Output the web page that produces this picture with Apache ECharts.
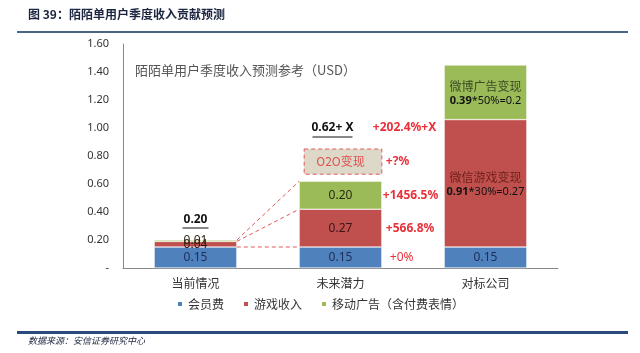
<!DOCTYPE html>
<html><head><meta charset="utf-8">
<script src="https://cdn.jsdelivr.net/npm/echarts@6/dist/echarts.min.js"></script>
<style>html,body{margin:0;padding:0;background:#fff}#c{width:640px;height:353px}</style>
</head><body><div id="c"></div>
<script>
var categories = ['当前情况', '未来潜力', '对标公司'];
var memberFee = [0.15, 0.15, 0.15];
var gameIncome = [0.04, 0.27, 0.91];
var mobileAds = [0.01, 0.20, 0.39];
var seriesNames = ['会员费', '游戏收入', '移动广告（含付费表情）'];
var totalLabels = ['0.20', '0.62+ X'];
var totalLabelLevel = [null, 1.0];
var growthLabels = ['+0%', '+566.8%', '+1456.5%'];
var o2oText = 'O2O变现', o2oGrowth = '+?%', totalGrowth = '+202.4%+X';
var o2oRange = [0.67, 0.85];
var benchGameText = ['微信游戏变现', '0.91', '*30%=0.27'];
var benchAdsText = ['微博广告变现', '0.39', '*50%=0.2'];
var yMin = 0, yMax = 1.6, yStep = 0.2;

var FONT = '"Noto Sans","Noto Sans CJK SC",sans-serif';
var CJK = '"Noto Sans CJK SC",sans-serif';
var chart = echarts.init(document.getElementById('c'));
var gap = 0.43;

function segLabel(color) {
  return { show: true, position: 'inside', color: color, fontSize: 12, fontFamily: FONT,
    formatter: function (p) { return p.value.toFixed(2); } };
}

var baseGraphics = [
  { type: 'text', left: 28, top: 8, style: { text: '图 39：陌陌单用户季度收入贡献预测', fontSize: 12, fontWeight: 'bold', fill: '#1c2540', fontFamily: CJK } },
  { type: 'rect', shape: { x: 17, y: 31, width: 611, height: 2 }, style: { fill: '#4a6488' } },
  { type: 'rect', shape: { x: 17, y: 331, width: 611, height: 3 }, style: { fill: '#2a4a7c' } },
  { type: 'text', left: 28, top: 336, style: { text: '数据来源：安信证券研究中心', fontSize: 9, fontStyle: 'italic', fill: '#1c2540', fontFamily: CJK } },
  { type: 'text', left: 135, top: 64, style: { text: '陌陌单用户季度收入预测参考（USD）', fontSize: 13, fill: '#555', fontFamily: CJK } }
];

var option = {
  animation: false,
  backgroundColor: '#fff',
  grid: { left: 123, right: 82, top: 44, bottom: 85 },
  legend: {
    bottom: 38, left: 'center', itemWidth: 6, itemHeight: 6, itemGap: 18,
    icon: 'rect', textStyle: { fontSize: 12, color: '#333', fontFamily: CJK },
    data: seriesNames
  },
  xAxis: {
    type: 'category', data: categories,
    axisLine: { lineStyle: { color: '#888' } }, axisTick: { show: false },
    axisLabel: { color: '#333', fontSize: 12, fontFamily: CJK, margin: 9 }
  },
  yAxis: {
    type: 'value', min: yMin, max: yMax, interval: yStep,
    axisLine: { show: true, lineStyle: { color: '#888' } }, axisTick: { show: false },
    splitLine: { show: false },
    axisLabel: { color: '#333', fontSize: 11, fontFamily: FONT, margin: 14,
      formatter: function (v) { return v === 0 ? '-' : v.toFixed(2); } }
  },
  series: [
    { name: seriesNames[0], type: 'bar', stack: 's', data: memberFee, barCategoryGap: (gap * 100) + '%',
      itemStyle: { color: '#4f81bd', borderColor: '#fff', borderWidth: 0.5 },
      label: segLabel('#1f2d5a') },
    { name: seriesNames[1], type: 'bar', stack: 's', data: gameIncome,
      itemStyle: { color: '#c0504d', borderColor: '#fff', borderWidth: 0.5 },
      label: { show: true, position: 'inside', fontSize: 12, fontFamily: FONT, color: '#3a1414',
        formatter: function (p) {
          if (p.dataIndex === 2) return '{t|' + benchGameText[0] + '}\n{b|' + benchGameText[1] + '}{n|' + benchGameText[2] + '}';
          return p.value.toFixed(2);
        },
        rich: { t: { fontSize: 12, color: '#6e1f1c', fontFamily: CJK, lineHeight: 18 },
                b: { fontSize: 11, fontWeight: 'bold', color: '#111', fontFamily: FONT },
                n: { fontSize: 11, color: '#111', fontFamily: FONT } } } },
    { name: seriesNames[2], type: 'bar', stack: 's', data: mobileAds,
      itemStyle: { color: '#9bbb59', borderColor: '#fff', borderWidth: 0.5 },
      label: { show: true, position: 'inside', fontSize: 12, fontFamily: FONT, color: '#2a2a14',
        formatter: function (p) {
          if (p.dataIndex === 2) return '{t|' + benchAdsText[0] + '}\n{b|' + benchAdsText[1] + '}{n|' + benchAdsText[2] + '}';
          return p.value.toFixed(2);
        },
        rich: { t: { fontSize: 12, color: '#3d4a22', fontFamily: CJK, lineHeight: 18 },
                b: { fontSize: 11, fontWeight: 'bold', color: '#111', fontFamily: FONT },
                n: { fontSize: 11, color: '#111', fontFamily: FONT } } } }
  ],
  graphic: baseGraphics
};
chart.setOption(option);

function px(i, v) { return chart.convertToPixel({ gridIndex: 0 }, [i, v]); }
var band = px(1, 0)[0] - px(0, 0)[0];
var half = band * (1 - gap) / 2;
var g = baseGraphics.slice();
var cum0 = [memberFee[0], memberFee[0] + gameIncome[0], memberFee[0] + gameIncome[0] + mobileAds[0]];
var cum1 = [memberFee[1], memberFee[1] + gameIncome[1], memberFee[1] + gameIncome[1] + mobileAds[1]];
for (var k = 0; k < 3; k++) {
  var a = px(0, cum0[k]), b = px(1, cum1[k]);
  g.push({ type: 'line', z: 5, shape: { x1: a[0] + half, y1: a[1], x2: b[0] - half, y2: b[1] },
    style: { stroke: '#e05a5a', lineWidth: 1, lineDash: [4, 3] } });
}
var t0 = px(0, cum0[2]);
g.push({ type: 'text', x: t0[0], y: t0[1] - 20, style: { text: totalLabels[0], fontSize: 12, fontWeight: 'bold', fill: '#111', fontFamily: FONT, align: 'center', verticalAlign: 'middle' } });
g.push({ type: 'line', shape: { x1: t0[0] - 13, y1: t0[1] - 12, x2: t0[0] + 13, y2: t0[1] - 12 }, style: { stroke: '#111', lineWidth: 1 } });
var t1 = px(1, totalLabelLevel[1]);
g.push({ type: 'text', x: t1[0] - 8, y: t1[1], style: { text: totalLabels[1], fontSize: 12, fontWeight: 'bold', fill: '#111', fontFamily: FONT, align: 'center', verticalAlign: 'middle' } });
g.push({ type: 'line', shape: { x1: t1[0] - 28, y1: t1[1] + 9, x2: t1[0] + 12, y2: t1[1] + 9 }, style: { stroke: '#111', lineWidth: 1 } });
g.push({ type: 'text', x: t1[0] + half - 9, y: t1[1], style: { text: totalGrowth, fontSize: 12, fontWeight: 'bold', fill: '#e8323a', fontFamily: FONT, align: 'left', verticalAlign: 'middle' } });
var oTop = px(1, o2oRange[1]), oBot = px(1, o2oRange[0]);
g.push({ type: 'rect', shape: { x: oTop[0] - half + 5, y: oTop[1], width: 2 * half - 5, height: oBot[1] - oTop[1] },
  style: { fill: '#ddd8c8', stroke: '#e05a5a', lineWidth: 1, lineDash: [4, 3] } });
g.push({ type: 'text', x: oTop[0], y: (oTop[1] + oBot[1]) / 2, style: { text: o2oText, fontSize: 12, fill: '#e05050', fontFamily: CJK, align: 'center', verticalAlign: 'middle' } });
g.push({ type: 'text', x: oTop[0] + half + 4, y: (oTop[1] + oBot[1]) / 2, style: { text: o2oGrowth, fontSize: 12, fontWeight: 'bold', fill: '#e8323a', fontFamily: FONT, align: 'left', verticalAlign: 'middle' } });
var lows = [0, memberFee[1], memberFee[1] + gameIncome[1]];
var segs = [memberFee[1], gameIncome[1], mobileAds[1]];
var offs = [8, 4, 1];
for (var j = 0; j < 3; j++) {
  var p = px(1, lows[j] + segs[j] / 2);
  g.push({ type: 'text', x: p[0] + half + offs[j], y: p[1], style: { text: growthLabels[j], fontSize: 12, fontWeight: j === 0 ? 'normal' : 'bold', fill: '#e8323a', fontFamily: FONT, align: 'left', verticalAlign: 'middle' } });
}
chart.setOption({ graphic: g });
</script></body></html>
